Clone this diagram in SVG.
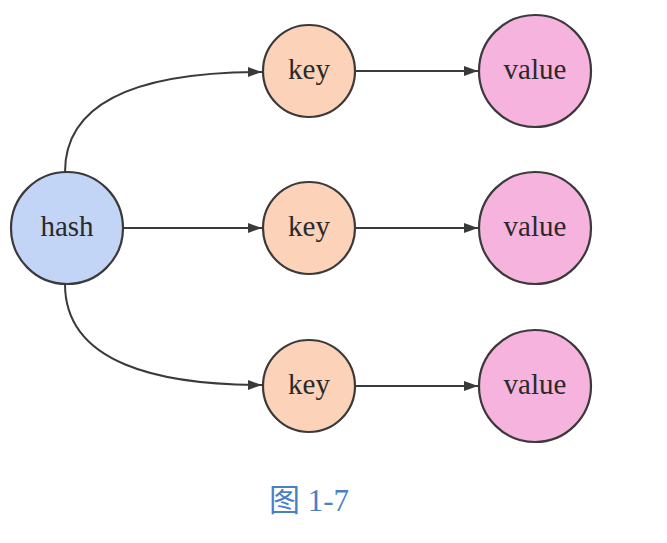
<svg xmlns="http://www.w3.org/2000/svg" width="667" height="543" viewBox="0 0 667 543">
<defs>
<style>
.n{stroke:#3a3a3a;stroke-width:2.2}
.hash{fill:#c2d5f7}
.key{fill:#fcd3b9}
.val{fill:#f6b3de}
.t{font-family:"Liberation Serif","Times New Roman",serif;font-size:29px;fill:#2a2a2a;text-anchor:middle;dominant-baseline:central}
.e{fill:none;stroke:#3a3a3a;stroke-width:2;marker-end:url(#ah)}
.cap{font-family:"Liberation Serif","Noto Sans CJK SC",serif;font-size:31px;fill:#4a7fc4}
</style>
<marker id="ah" viewBox="0 0 10 10" refX="10" refY="5" markerWidth="9" markerHeight="7" markerUnits="strokeWidth" orient="auto">
<path d="M0,1.5 L10,5 L0,8.5 z" fill="#3a3a3a"/>
</marker>
</defs>
<rect width="667" height="543" fill="#ffffff"/>
<g id="edges">
<path class="e" d="M65,172 C65,92 160,72 262,72"/>
<path class="e" d="M122,228 L262,228"/>
<path class="e" d="M65,284 C65,364 160,385 262,385"/>
<path class="e" d="M356,71 L478,71"/>
<path class="e" d="M356,228 L478,228"/>
<path class="e" d="M356,386 L478,386"/>
</g>
<g id="hash"><circle class="n hash" cx="67" cy="228" r="56"/><text class="t" x="67" y="226">hash</text></g>
<g id="key1"><circle class="n key" cx="309" cy="71" r="46"/><text class="t" x="309" y="69">key</text></g>
<g id="key2"><circle class="n key" cx="309" cy="228" r="46"/><text class="t" x="309" y="226">key</text></g>
<g id="key3"><circle class="n key" cx="309" cy="386" r="46"/><text class="t" x="309" y="384">key</text></g>
<g id="value1"><circle class="n val" cx="535" cy="71" r="56"/><text class="t" x="535" y="69">value</text></g>
<g id="value2"><circle class="n val" cx="535" cy="228" r="56"/><text class="t" x="535" y="226">value</text></g>
<g id="value3"><circle class="n val" cx="535" cy="386" r="56"/><text class="t" x="535" y="384">value</text></g>
<text class="cap" x="269" y="511">图 1-7</text>
</svg>
